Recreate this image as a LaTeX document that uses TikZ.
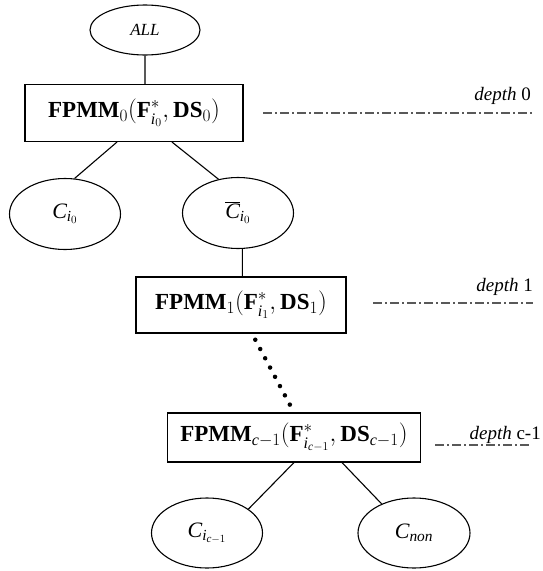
\documentclass[tikz,border=0pt]{standalone}
\usepackage{fontspec}
\setmainfont{Liberation Serif}
\usetikzlibrary{shapes.geometric}

\begin{document}
\begin{tikzpicture}[x=1pt,y=-1pt]
      \tikzset{
        every node/.style={inner sep=0pt},
        cls/.style={ellipse,draw,line width=1.1pt,minimum width=111pt,minimum height=71pt,font=\fontsize{22}{26}\selectfont},
        fpmm/.style={rectangle,draw,line width=1.1pt,font=\fontsize{23}{27}\selectfont},
        lvl/.style={draw=gray!70!black,line width=1.1pt,dash pattern=on 9pt off 3pt on 2pt off 3pt},
        lvltext/.style={anchor=base east,font=\fontsize{19}{23}\selectfont}
      }
      \useasboundingbox (0,0) rectangle (543,571);

      % root and level 0
      \node[cls,minimum width=110pt,minimum height=50pt,font=\fontsize{17}{20}\selectfont\itshape] (all) at (145,30) {ALL};
      \node[fpmm,minimum width=218pt,minimum height=57pt] (fp0) at (134,113)
        {$\mathbf{FPMM}_0(\mathbf{F}^*_{\mathit{i}_0},\mathbf{DS}_0)$};
      \node[cls] (ci0) at (65,214) {$\mathit{C}_{\mathit{i}_0}$};
      \node[cls] (cbar) at (238,213) {$\overline{\mathit{C}}_{\mathit{i}_0}$};

      % level 1
      \node[fpmm,minimum width=210pt,minimum height=56pt] (fp1) at (241,305)
        {$\mathbf{FPMM}_1(\mathbf{F}^*_{\mathit{i}_1},\mathbf{DS}_1)$};

      % level c-1
      \node[fpmm,minimum width=253pt,minimum height=49pt] (fpc) at (294,437.5)
        {$\mathbf{FPMM}_{\mathit{c}-1}(\mathbf{F}^*_{\mathit{i}_{\mathit{c}-1}},\mathbf{DS}_{\mathit{c}-1})$};
      \node[cls,minimum height=70pt] (cic) at (207,533) {$\mathit{C}_{\mathit{i}_{\mathit{c}-1}}$};
      \node[cls,minimum width=112pt,minimum height=70pt] (cnon) at (414,533) {$\mathit{C}_{\mathit{non}}$};

      \draw[line width=1.1pt] (all) -- (all |- fp0.north)
            ([xshift=-17pt]fp0.south) -- (ci0.75)
            ([xshift=38pt]fp0.south) -- (cbar.120)
            (cbar.-83) -- (cbar.-83 |- fp1.north)
            (fpc.south) -- (cic.30)
            ([xshift=48pt]fpc.south) -- (cnon.138);
      \draw[line width=4.5pt,line cap=round,dash pattern=on 0pt off 10.5pt,shorten <=7pt]
            ([xshift=11pt]fp1.south) -- (fpc.north);

      % depth marks
      \coordinate (d0a) at (263,113);
      \coordinate (d0b) at (533,113);
      \coordinate (d1a) at (373,303);
      \coordinate (d1b) at (533,303);
      \coordinate (dca) at (435,445);
      \coordinate (dcb) at (531,445);
      \draw[lvl] (d0a) -- (d0b);
      \draw[lvl] (d1a) -- (d1b);
      \draw[lvl] (dca) -- (dcb);
      \node[lvltext] (t0) at (531,100) {\textit{depth} 0};
      \node[lvltext] (t1) at (533,291) {\textit{depth} 1};
      \node[lvltext] (tc) at (541,439) {\textit{depth} c-1};
\end{tikzpicture}
\end{document}
